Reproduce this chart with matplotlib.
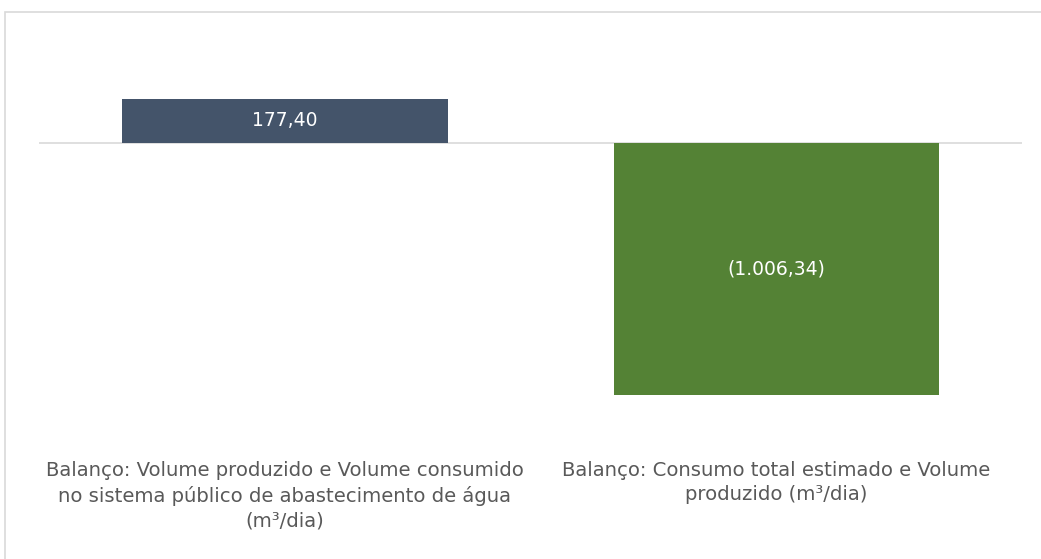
import matplotlib
matplotlib.use("Agg")
import matplotlib.pyplot as plt
from matplotlib.patches import Rectangle

# Balance of water volumes (m³/day)
categories = [
    "Balanço: Volume produzido e Volume consumido\nno sistema público de abastecimento de água\n(m³/dia)",
    "Balanço: Consumo total estimado e Volume\nproduzido (m³/dia)",
]
values = [177.40, -1006.34]
bar_colors = ["#44546A", "#548235"]


def fmt_br(v):
    s = f"{abs(v):,.2f}".replace(",", "X").replace(".", ",").replace("X", ".")
    return f"({s})" if v < 0 else s


plt.rcParams["font.family"] = ["DejaVu Sans"]

fig = plt.figure(figsize=(10.41, 5.59), dpi=100)
fig.patch.set_facecolor("white")

# chart area border (open to the right and bottom)
fig.add_artist(Rectangle((5 / 1041, -0.1), 1.2, (559 - 12) / 559 + 0.1,
                         transform=fig.transFigure, fill=False,
                         edgecolor="#D9D9D9", linewidth=1.2))

ax = fig.add_axes([0.0377, 0.2064, 0.9443, 0.717])
x = list(range(len(categories)))
bars = ax.bar(x, values, width=0.663, color=bar_colors, zorder=2)

ax.axhline(0, color="#D9D9D9", linewidth=1.2, zorder=1)
ax.set_xlim(-0.5, 1.5)
ax.set_ylim(-1200, 400)

for rect, v in zip(bars, values):
    ax.text(rect.get_x() + rect.get_width() / 2, v / 2, fmt_br(v),
            ha="center", va="center", color="white", fontsize=13.5, zorder=3)

ax.set_xticks(x)
ax.set_xticklabels(categories, color="#595959", fontsize=14.1,
                   linespacing=1.36)
ax.tick_params(axis="x", length=0, pad=12.5)
ax.set_yticks([])
for s in ax.spines.values():
    s.set_visible(False)
ax.patch.set_alpha(0)

fig.savefig("out.png", dpi=100, facecolor="white")
